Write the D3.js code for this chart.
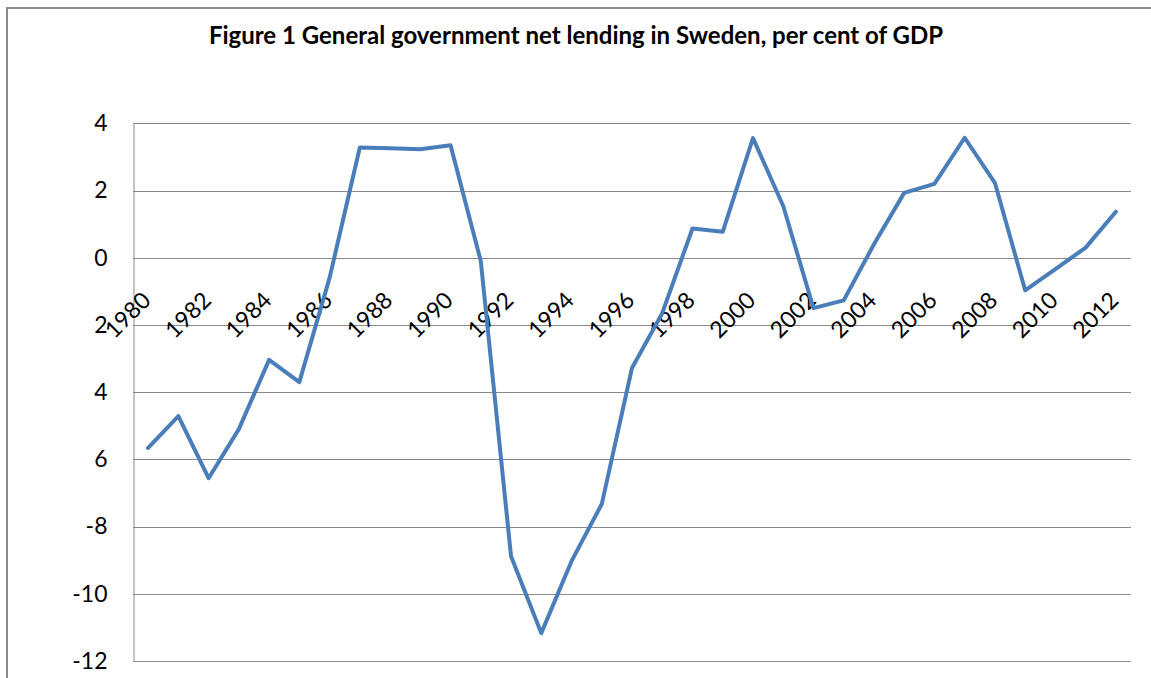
<!DOCTYPE html>
<html>
<head>
<meta charset="utf-8">
<script src="https://cdn.jsdelivr.net/npm/d3@7"></script>
<style>
  html, body { margin: 0; padding: 0; background: #fff; }
  svg { display: block; }
</style>
</head>
<body>
<svg id="chart" width="1151" height="678"></svg>
<script>
const title = "Figure 1 General government net lending in Sweden, per cent of GDP";
const years = d3.range(1980, 2013);
const netLending = [
  -5.66, -4.71, -6.56, -5.10, -3.04, -3.70, -0.60, 3.28, 3.26, 3.23,
   3.35, -0.10, -8.88, -11.17, -9.03, -7.33, -3.28, -1.65, 0.87, 0.77,
   3.56, 1.54, -1.50, -1.27, 0.40, 1.93, 2.20, 3.57, 2.23, -0.97,
  -0.34, 0.30, 1.37
];
const yTicks = [4, 2, 0, -2, -4, -6, -8, -10, -12];
const yTickLabels = ["4", "2", "0", "2", "4", "6", "-8", "-10", "-12"];
const xLabelYears = d3.range(1980, 2013, 2);

const svg = d3.select("#chart");
const W = 1151, H = 678;
const m = { left: 133, right: 1131, top: 123.3, bottom: 661 };
const FONT = "Lato, 'Open Sans', sans-serif";

// outer frame
svg.append("rect")
  .attr("x", 7).attr("y", 8)
  .attr("width", W + 20).attr("height", H + 20)
  .attr("fill", "#fff").attr("stroke", "#8c8c8c").attr("stroke-width", 2);

svg.append("text")
  .attr("x", 576).attr("y", 44)
  .attr("text-anchor", "middle")
  .attr("font-family", FONT)
  .attr("font-weight", "bold")
  .attr("font-size", 24)
  .attr("fill", "#000")
  .text(title);

const x = d3.scaleBand().domain(years).range([m.left, m.right]);
const y = d3.scaleLinear().domain([-12, 4]).range([m.bottom, m.top]);

// gridlines
svg.append("g")
  .selectAll("line").data(yTicks).join("line")
  .attr("x1", m.left).attr("x2", m.right)
  .attr("y1", d => Math.round(y(d)) + 0.5).attr("y2", d => Math.round(y(d)) + 0.5)
  .attr("stroke", "#8a8a8a").attr("stroke-width", 1);

// y axis
const yAxis = d3.axisLeft(y).tickValues(yTicks)
  .tickFormat((d, i) => yTickLabels[i]).tickSize(0).tickPadding(26);
const gy = svg.append("g").attr("transform", `translate(${m.left + 0.5},0)`).call(yAxis);
gy.select(".domain").attr("stroke", "#8a8a8a");
gy.selectAll("text")
  .attr("font-family", FONT)
  .attr("font-size", 23).attr("fill", "#000");

// x axis labels (category axis crossing at 0)
const xAxis = d3.axisBottom(x).tickValues(xLabelYears).tickSize(0).tickFormat(d3.format("d"));
const gx = svg.append("g").attr("transform", `translate(0,${y(0)})`).call(xAxis);
gx.select(".domain").remove();
gx.selectAll(".tick text")
  .attr("font-family", FONT)
  .attr("font-size", 23).attr("fill", "#000")
  .attr("text-anchor", "end")
  .attr("dy", null).attr("y", null)
  .attr("transform", "translate(4,44) rotate(-45)");

// line
const line = d3.line()
  .x((d, i) => x(years[i]) + x.bandwidth() / 2)
  .y(d => y(d));
svg.append("path")
  .datum(netLending)
  .attr("d", line)
  .attr("fill", "none")
  .attr("stroke", "#4a7ebb")
  .attr("stroke-width", 4)
  .attr("stroke-linejoin", "round")
  .attr("stroke-linecap", "round");
</script>
</body>
</html>
